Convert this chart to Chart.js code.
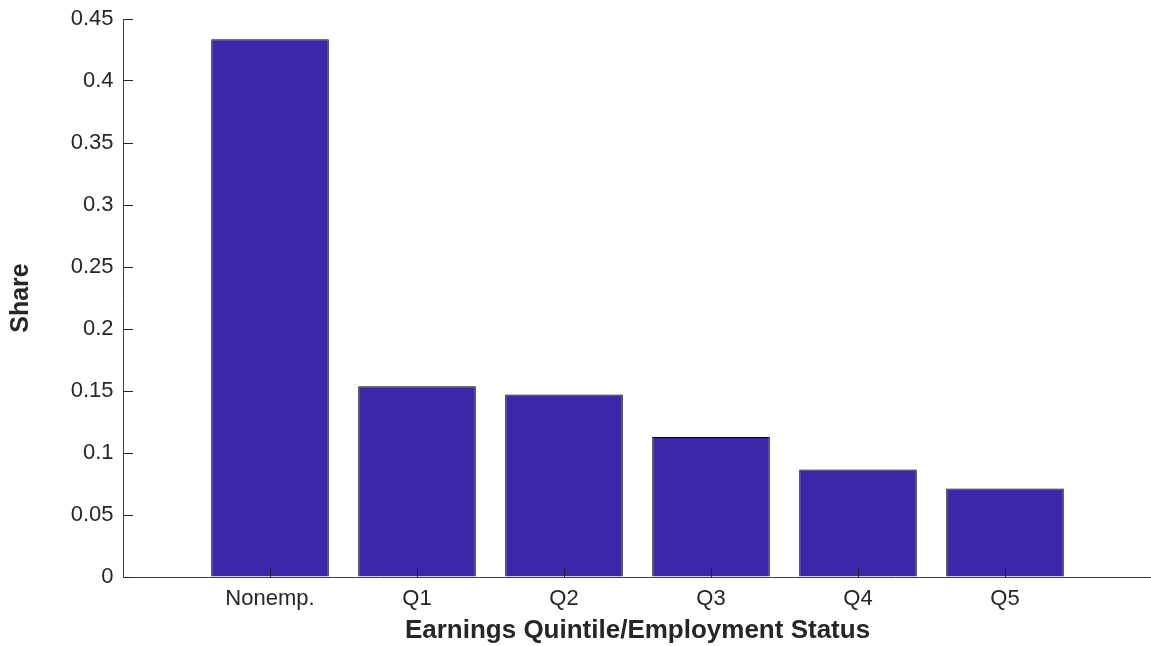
<!DOCTYPE html>
<html>
<head>
<meta charset="utf-8">
<script src="https://cdn.jsdelivr.net/npm/chart.js@4"></script>
<style>
  html, body { margin: 0; padding: 0; background: #fff; overflow: hidden; }
  #wrap { position: relative; width: 1160px; height: 646px; }
</style>
</head>
<body>
<div id="wrap"><canvas id="c" width="1160" height="646"></canvas></div>
<script>
// ---- data ----
const categories = ['Nonemp.', 'Q1', 'Q2', 'Q3', 'Q4', 'Q5'];
const shareValues = [0.4336, 0.1539, 0.1472, 0.1130, 0.0867, 0.0713];
const yTickValues = [0, 0.05, 0.1, 0.15, 0.2, 0.25, 0.3, 0.35, 0.4, 0.45];
const xTitle = 'Earnings Quintile/Employment Status';
const yTitle = 'Share';

// padded labels so the axis spans 0..7 like the original
const labels = [''].concat(categories, ['']);
const data = [null].concat(shareValues, [null]);

const textColor = '#262626';
const axisColor = '#404040';
const fontFamily = 'Liberation Sans, Arial, sans-serif';

new Chart(document.getElementById('c'), {
  type: 'bar',
  data: {
    labels: labels,
    datasets: [{
      data: data,
      backgroundColor: '#3D27A8',
      borderColor: '#000000',
      borderWidth: 1,
      borderSkipped: 'start',
      categoryPercentage: 1,
      barPercentage: 0.8
    }]
  },
  options: {
    responsive: false,
    animation: false,
    layout: { padding: { top: 19, right: 8, left: 0, bottom: 0 } },
    plugins: { legend: { display: false }, tooltip: { enabled: false } },
    scales: {
      x: {
        type: 'category',
        offset: false,
        grid: {
          offset: false,
          z: 1,
          drawOnChartArea: false,
          drawTicks: true,
          tickLength: -10,
          color: (ctx) => (ctx.tick && ctx.tick.label === '') ? 'rgba(0,0,0,0)' : textColor,
          lineWidth: 1
        },
        border: { display: true, color: axisColor, width: 1, z: 1 },
        ticks: {
          autoSkip: false,
          maxRotation: 0,
          padding: 19,
          color: textColor,
          font: { family: fontFamily, size: 22 }
        },
        title: {
          display: true,
          text: xTitle,
          color: textColor,
          padding: { top: 0, bottom: 0 },
          font: { family: fontFamily, size: 26, weight: 'bold' }
        },
        afterFit: (scale) => { scale.height = 69; scale.paddingLeft = 0; scale.paddingRight = 0; }
      },
      y: {
        min: 0,
        max: 0.45,
        afterBuildTicks: (scale) => { scale.ticks = yTickValues.map(v => ({ value: v })); },
        grid: {
          z: 1,
          drawOnChartArea: false,
          drawTicks: true,
          tickLength: -10,
          color: textColor,
          lineWidth: 1
        },
        border: { display: true, color: axisColor, width: 1, z: 1 },
        ticks: {
          padding: 19.5,
          color: textColor,
          font: { family: fontFamily, size: 22 },
          callback: (v) => String(Number(v.toFixed(2)))
        },
        title: {
          display: true,
          text: yTitle,
          color: textColor,
          padding: { top: 6, bottom: 0 },
          font: { family: fontFamily, size: 25, weight: 'bold' }
        },
        afterFit: (scale) => { scale.width = 123; scale.paddingTop = 0; scale.paddingBottom = 0; }
      }
    }
  }
});
</script>
</body>
</html>
